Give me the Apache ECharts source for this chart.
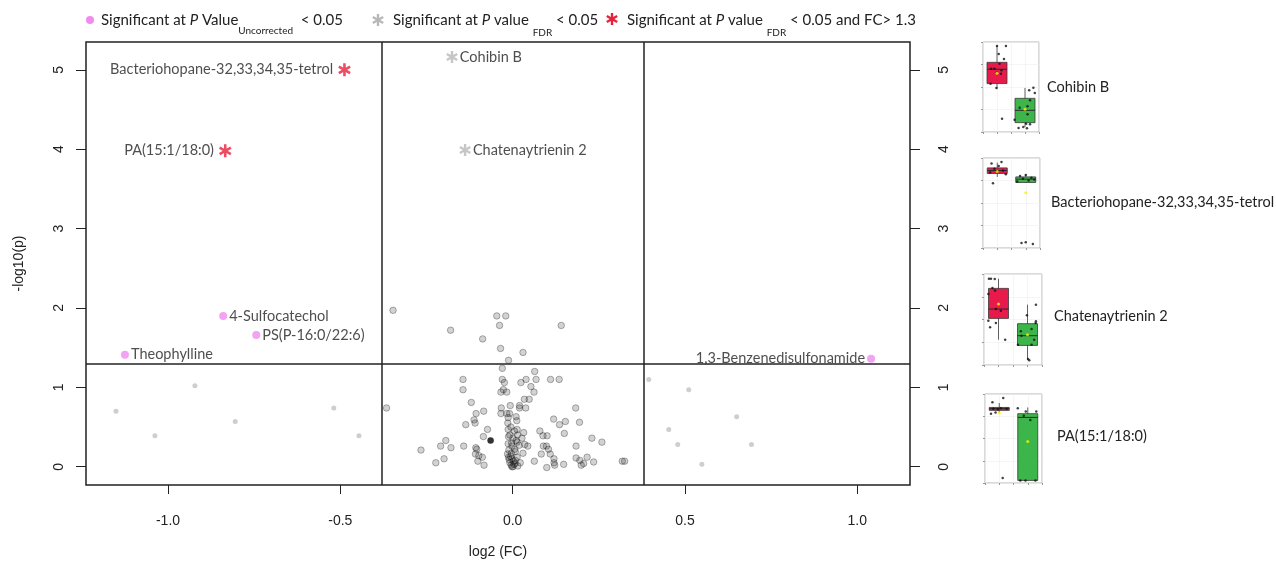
<!DOCTYPE html>
<html>
<head>
<meta charset="utf-8">
<style>
  html, body { margin: 0; padding: 0; background: #fff; }
  #chart { width: 1276px; height: 567px; }
</style>
<script src="https://cdn.jsdelivr.net/npm/echarts@6/dist/echarts.min.js"></script>
</head>
<body>
<div id="chart"></div>
<script>
// volcano plot, log2(FC) against -log10(p), with four small boxplots on the right
const xTicks = [-1, -0.5, 0, 0.5, 1];
const yTicks = [0, 1, 2, 3, 4, 5];
const pCut = 1.301;    // -log10(0.05)
const fcCut = 0.3785;  // log2(1.3)

// significant at FDR and FC > 1.3
const fdrFcNames = ['Bacteriohopane-32,33,34,35-tetrol', 'PA(15:1/18:0)'];
const fdrFcFC = [-0.488, -0.834];
const fdrFcLogP = [5.00, 3.98];

// significant at FDR
const fdrNames = ['Cohibin B', 'Chatenaytrienin 2'];
const fdrFC = [-0.176, -0.138];
const fdrLogP = [5.16, 3.99];

// significant at uncorrected p
const rawNames = ['4-Sulfocatechol', 'PS(P-16:0/22:6)', 'Theophylline', '1,3-Benzenedisulfonamide'];
const rawFC = [-0.840, -0.744, -1.125, 1.040];
const rawLogP = [1.90, 1.66, 1.41, 1.36];

// not significant, outside the FC lines
const outerFC = [-1.151, -1.038, -0.922, -0.805, -0.519, -0.446, 0.395, 0.511, 0.650, 0.453, 0.479, 0.693, 0.549];
const outerLogP = [0.70, 0.39, 1.02, 0.57, 0.74, 0.39, 1.10, 0.97, 0.63, 0.47, 0.28, 0.28, 0.03];

// not significant, inside the FC lines
const innerFC = [-0.347, -0.046, -0.020, -0.038, 0.141, -0.180, -0.087, -0.035, 0.030, -0.012,
  -0.030, 0.064, -0.144, -0.030, 0.039, 0.068, 0.110, 0.135, -0.024, 0.024,
  0.053, -0.144, -0.027, -0.034, -0.017, 0.062, 0.034, 0.048, -0.120, -0.366,
  -0.033, -0.007, 0.020, 0.038, 0.020, 0.183, -0.084, -0.106, -0.034, -0.017,
  -0.009, 0.010, -0.013, 0.119, -0.112, -0.136, 0.012, -0.014, 0.153, 0.194,
  0.136, -0.109, -0.073, 0.013, -0.013, 0.032, 0.079, 0.088, 0.014, 0.100,
  0.150, -0.194, -0.085, -0.012, 0.001, 0.027, 0.013, 0.230, 0.259, -0.209,
  -0.179, -0.142, -0.107, -0.104, -0.013, -0.002, 0.019, 0.035, 0.044, 0.089,
  0.098, 0.104, 0.184, -0.266, -0.108, -0.098, -0.088, -0.011, -0.004, 0.008,
  0.030, 0.083, 0.109, 0.120, 0.184, 0.195, 0.216, 0.206, 0.199, 0.235,
  -0.199, -0.223, -0.101, -0.083, -0.012, -0.002, 0.002, 0.013, 0.015, 0.001,
  -0.002, 0.063, 0.099, 0.120, 0.122, 0.148, 0.318, 0.325, -0.008, 0.007,
  0.022, -0.015, -0.010, -0.005, 0.005, -0.008, 0.010, -0.003, 0.006, -0.006,
  0.004, -0.004, 0.008];
const innerLogP = [1.97, 1.90, 1.90, 1.78, 1.78, 1.72, 1.61, 1.49, 1.44, 1.34,
  1.24, 1.20, 1.10, 1.10, 1.10, 1.10, 1.10, 1.10, 1.06, 1.06,
  1.01, 0.97, 0.97, 0.94, 0.94, 0.94, 0.85, 0.85, 0.81, 0.74,
  0.74, 0.77, 0.77, 0.74, 0.74, 0.74, 0.70, 0.67, 0.67, 0.67,
  0.67, 0.63, 0.62, 0.60, 0.59, 0.53, 0.58, 0.55, 0.57, 0.56,
  0.53, 0.55, 0.47, 0.47, 0.47, 0.43, 0.45, 0.39, 0.40, 0.39,
  0.42, 0.33, 0.38, 0.38, 0.36, 0.36, 0.31, 0.36, 0.31, 0.26,
  0.24, 0.26, 0.24, 0.22, 0.29, 0.26, 0.27, 0.28, 0.26, 0.26,
  0.26, 0.22, 0.26, 0.21, 0.16, 0.14, 0.12, 0.21, 0.17, 0.19,
  0.17, 0.16, 0.16, 0.10, 0.11, 0.08, 0.12, 0.04, 0.02, 0.06,
  0.10, 0.05, 0.07, 0.02, 0.12, 0.10, 0.07, 0.12, 0.01, 0.00,
  0.00, 0.07, -0.01, 0.05, 0.02, 0.03, 0.07, 0.07, 0.05, 0.04,
  0.05, 0.16, 0.09, 0.50, 0.45, 0.40, 0.33, 0.30, 0.22, 0.13,
  0.03, 0.02, 0.08];
const blackFC = [-0.064];
const blackLogP = [0.33];

// boxplot thumbnails: [low, q1, median, q3, high], scaled 0-100
const panelNames = ['Cohibin B', 'Bacteriohopane-32,33,34,35-tetrol', 'Chatenaytrienin 2', 'PA(15:1/18:0)'];
const boxA = [[48.2, 53.8, 69.7, 77.4, 95.6], [79.0, 82.8, 86.1, 89.0, 94.9], [27.8, 51.2, 61.5, 84.2, 94.8], [79.3, 81.6, 83.5, 84.9, 89.9]];
const boxB = [[5.6, 10.4, 24.1, 37.4, 48.9], [72.8, 72.8, 76.5, 79.0, 81.7], [5.8, 21.5, 32.2, 45.4, 66.3], [2.9, 2.9, 73.7, 77.9, 84.9]];
const meanA = [65.2, 85.0, 67.0, 78.7];
const meanB = [25.2, 61.4, 33.3, 46.7];
const jitterX = [
  [0.0, 0.32, 0.06, 0.25, -0.21, -0.09, 0.09, 0.16, -0.01, 0.14, -0.23, -0.02, 0.18, 1.15, 1.30, 1.35, 1.18, 1.09, 0.81, 1.09, 0.63, 1.04, 1.18, 0.77, 1.07, 0.94],
  [-0.2, 0.15, 0.05, -0.1, 0.2, 0.0, -0.25, 0.3, -0.15, 1.0, 0.8, 1.2, 0.9, 1.3, 1.1, 0.7, 0.85, 1.0, 1.25],
  [-0.33, -0.26, -0.13, -0.21, -0.12, -0.35, -0.09, 0.08, -0.35, -0.29, -0.09, 0.23, 1.29, 0.98, 1.29, 1.28, 0.77, 1.14, 0.79, 1.23, 0.67, 1.14, 1.02, 1.06],
  [-0.24, 0.14, -0.29, -0.13, -0.21, 0.26, 0.12, -0.05, 0.05, 0.65, 0.93, 1.3, 1.09, 0.74, 0.92, 1.27, 0.86]
];
const jitterY = [
  [95.6, 95.6, 86.7, 81.1, 70.4, 70.4, 75.9, 68.5, 65.9, 64.8, 53.7, 48.9, 14.8, 46.3, 49.3, 43.4, 35.2, 28.5, 27.0, 19.6, 13.7, 9.3, 8.5, 4.4, 4.1, 5.6],
  [94, 95.5, 91, 88, 86, 85, 84, 82, 72, 81, 80, 78, 77, 76, 75, 74, 5.5, 6.5, 4.5],
  [94.8, 94.8, 94.4, 84.5, 81.9, 77.9, 61.5, 59.7, 48.7, 41.4, 46.2, 27.8, 66.3, 54.6, 48, 46.2, 37, 39.6, 32.2, 27.8, 22.3, 22.3, 6.6, 5.1],
  [90.6, 95.5, 77.9, 79.3, 83.5, 83.5, 5.6, 83, 84, 84.1, 80.3, 80.3, 70.9, 2.9, 2.9, 2.9, 75.7]
];

const ASTERISK = 'path://M-1,-5L1,-5L1,5L-1,5Z M3.83,-3.366L4.83,-1.634L-3.83,3.366L-4.83,1.634Z M-4.83,-1.634L-3.83,-3.366L4.83,1.634L3.83,3.366Z';
const leftLabelled = ['Bacteriohopane-32,33,34,35-tetrol', 'PA(15:1/18:0)', '1,3-Benzenedisulfonamide'];
const axisFont = { fontFamily: 'Liberation Sans', fontSize: 14, color: '#222' };
const labelFont = { fontFamily: 'Lato', fontSize: 14.5, color: '#222' };

function zip(xs, ys) { return xs.map((x, i) => [x, ys[i]]); }
function named(names, xs, ys) {
  return names.map((n, i) => ({
    name: n, value: [xs[i], ys[i]],
    label: { position: leftLabelled.includes(n) ? 'left' : 'right' }
  }));
}

const chart = echarts.init(document.getElementById('chart'));

// panel layout, pixels
const panelBoxes = [
  { left: 983, top: 42, width: 56, height: 90, labelX: 1047, labelY: 87 },
  { left: 983, top: 158, width: 57, height: 90, labelX: 1051, labelY: 202 },
  { left: 984, top: 274, width: 58, height: 91, labelX: 1054, labelY: 316 },
  { left: 985, top: 394, width: 57, height: 89, labelX: 1057, labelY: 436 }
];

const grids = [{ left: 86, top: 42, width: 824, height: 443, show: true, borderColor: '#222', borderWidth: 1.5 }];
const xAxes = [{
  type: 'value', gridIndex: 0, min: -1.238, max: 1.153,
  name: 'log2 (FC)', nameLocation: 'middle', nameGap: 60, nameTextStyle: axisFont,
  axisLine: { show: false, onZero: false }, splitLine: { show: false },
  axisTick: { show: true, length: 9, customValues: xTicks, lineStyle: { color: '#222' } },
  axisLabel: { customValues: xTicks, formatter: v => v.toFixed(1), margin: 29, ...axisFont }
}];
const yAxes = [0, 1].map(k => ({
  type: 'value', gridIndex: 0, min: -0.23, max: 5.35, position: k ? 'right' : 'left',
  name: k ? '' : '-log10(p)', nameLocation: 'middle', nameGap: 60, nameTextStyle: axisFont,
  axisLine: { show: false, onZero: false }, splitLine: { show: false },
  axisTick: { show: true, length: 10, customValues: yTicks, lineStyle: { color: '#222' } },
  axisLabel: { customValues: yTicks, rotate: 90, margin: k ? 27 : 20, ...axisFont }
}));

const series = [
  {
    type: 'scatter', xAxisIndex: 0, yAxisIndex: 0, data: zip(innerFC, innerLogP), symbolSize: 6.5,
    itemStyle: { color: 'rgba(40,40,40,0.26)', borderColor: 'rgba(0,0,0,0.36)', borderWidth: 1 },
    markLine: {
      silent: true, symbol: 'none', label: { show: false },
      lineStyle: { color: '#222', width: 1.5, type: 'solid' },
      data: [{ yAxis: pCut }, { xAxis: -fcCut }, { xAxis: fcCut }]
    }
  },
  {
    type: 'scatter', xAxisIndex: 0, yAxisIndex: 0, data: zip(outerFC, outerLogP), symbolSize: 5,
    itemStyle: { color: '#c2c2c2' }
  },
  {
    type: 'scatter', xAxisIndex: 0, yAxisIndex: 0, data: zip(blackFC, blackLogP), symbolSize: 6.5,
    itemStyle: { color: '#000' }
  },
  {
    type: 'scatter', xAxisIndex: 0, yAxisIndex: 0, data: named(rawNames, rawFC, rawLogP), symbolSize: 8,
    itemStyle: { color: '#f08cf0' },
    label: { show: true, formatter: '{b}', distance: 2, ...labelFont }
  },
  {
    type: 'scatter', xAxisIndex: 0, yAxisIndex: 0, data: named(fdrNames, fdrFC, fdrLogP), symbol: ASTERISK,
    symbolSize: 12, symbolKeepAspect: true, itemStyle: { color: '#b8b8b8' },
    label: { show: true, formatter: '{b}', distance: 2, ...labelFont }
  },
  {
    type: 'scatter', xAxisIndex: 0, yAxisIndex: 0, data: named(fdrFcNames, fdrFcFC, fdrFcLogP), symbol: ASTERISK,
    symbolSize: 13, symbolKeepAspect: true, itemStyle: { color: '#e8203c' },
    label: { show: true, formatter: '{b}', distance: 5, ...labelFont }
  }
];

// boxplot thumbnails
function renderBox(params, api) {
  const g = api.value(0);
  const lo = api.coord([g, api.value(1)]);
  const q1 = api.coord([g, api.value(2)]);
  const med = api.coord([g, api.value(3)]);
  const q3 = api.coord([g, api.value(4)]);
  const hi = api.coord([g, api.value(5)]);
  const x = lo[0], half = 10;
  const edge = { stroke: '#3a3a3a', lineWidth: 0.8 };
  return {
    type: 'group', children: [
      { type: 'line', shape: { x1: x, y1: hi[1], x2: x, y2: lo[1] }, style: edge },
      { type: 'rect', shape: { x: x - half, y: q3[1], width: half * 2, height: Math.max(q1[1] - q3[1], 1) },
        style: { fill: g === 0 ? '#e8194b' : '#3cb54a', stroke: '#3a3a3a', lineWidth: 0.8 } },
      { type: 'line', shape: { x1: x - half, y1: med[1], x2: x + half, y2: med[1] }, style: { stroke: '#2a2a2a', lineWidth: 1 } }
    ]
  };
}

const graphic = [];
panelBoxes.forEach((p, i) => {
  const gi = i + 1;
  grids.push({ left: p.left, top: p.top, width: p.width, height: p.height, show: true, borderColor: '#b5b5b5', borderWidth: 1 });
  xAxes.push({
    type: 'value', gridIndex: gi, min: -0.5, max: 1.5, interval: 0.5,
    axisLine: { show: false, onZero: false }, axisLabel: { show: false },
    axisTick: { show: true, length: 2, lineStyle: { color: '#999' } },
    splitLine: { show: true, lineStyle: { color: '#eeeeee', width: 0.6 } }
  });
  yAxes.push({
    type: 'value', gridIndex: gi, min: 0, max: 100, interval: 25,
    axisLine: { show: false, onZero: false }, axisLabel: { show: false },
    axisTick: { show: true, length: 2, lineStyle: { color: '#999' } },
    splitLine: { show: true, lineStyle: { color: '#eeeeee', width: 0.6 } }
  });
  const yi = yAxes.length - 1;
  series.push({
    type: 'custom', xAxisIndex: gi, yAxisIndex: yi, renderItem: renderBox,
    encode: { x: 0, y: [1, 2, 3, 4, 5] },
    data: [[0, ...boxA[i]], [1, ...boxB[i]]]
  });
  series.push({
    type: 'scatter', xAxisIndex: gi, yAxisIndex: yi, symbolSize: 2.5,
    itemStyle: { color: '#111' }, data: zip(jitterX[i], jitterY[i])
  });
  series.push({
    type: 'scatter', xAxisIndex: gi, yAxisIndex: yi, symbolSize: 3,
    itemStyle: { color: '#f5f500' }, data: [[0, meanA[i]], [1, meanB[i]]]
  });
  graphic.push({
    type: 'text', x: p.labelX, y: p.labelY,
    style: { text: panelNames[i], font: '14.5px Lato', fill: '#222', textAlign: 'left', textVerticalAlign: 'middle' }
  });
});

// legend with italic P and subscripts, pieces placed one after another by measured width
const ctx = document.createElement('canvas').getContext('2d');
function legendRun(x, y, parts) {
  parts.forEach(p => {
    const font = (p.italic ? 'italic ' : '') + (p.size || 15) + 'px Lato';
    ctx.font = font;
    graphic.push({
      type: 'text', x: x, y: y + (p.dy || 0),
      style: { text: p.t, font: font, fill: '#222', textAlign: 'left', textVerticalAlign: 'middle' }
    });
    x += ctx.measureText(p.t).width;
  });
}
legendRun(101, 20, [{ t: 'Significant at ' }, { t: 'P', italic: true }, { t: ' Value' },
  { t: 'Uncorrected', size: 10, dy: 11 }, { t: '  < 0.05' }]);
legendRun(393, 20, [{ t: 'Significant at ' }, { t: 'P', italic: true }, { t: ' value ' },
  { t: 'FDR', size: 10, dy: 13 }, { t: ' < 0.05' }]);
legendRun(627, 20, [{ t: 'Significant at ' }, { t: 'P', italic: true }, { t: ' value ' },
  { t: 'FDR', size: 10, dy: 13 }, { t: ' < 0.05 and FC> 1.3' }]);

function asteriskMark(cx, cy, len, color) {
  return {
    type: 'group', x: cx, y: cy,
    children: [0, 60, -60].map(a => ({
      type: 'rect', rotation: a * Math.PI / 180,
      shape: { x: -len * 0.1, y: -len / 2, width: len * 0.2, height: len },
      style: { fill: color }
    }))
  };
}
graphic.push({ type: 'circle', shape: { cx: 90, cy: 20, r: 4 }, style: { fill: '#f08cf0' } });
graphic.push(asteriskMark(378, 20, 12, '#b8b8b8'));
graphic.push(asteriskMark(612, 19, 12, '#e8203c'));

chart.setOption({
  animation: false,
  backgroundColor: '#fff',
  grid: grids,
  xAxis: xAxes,
  yAxis: yAxes,
  series: series,
  graphic: graphic
});
</script>
</body>
</html>
